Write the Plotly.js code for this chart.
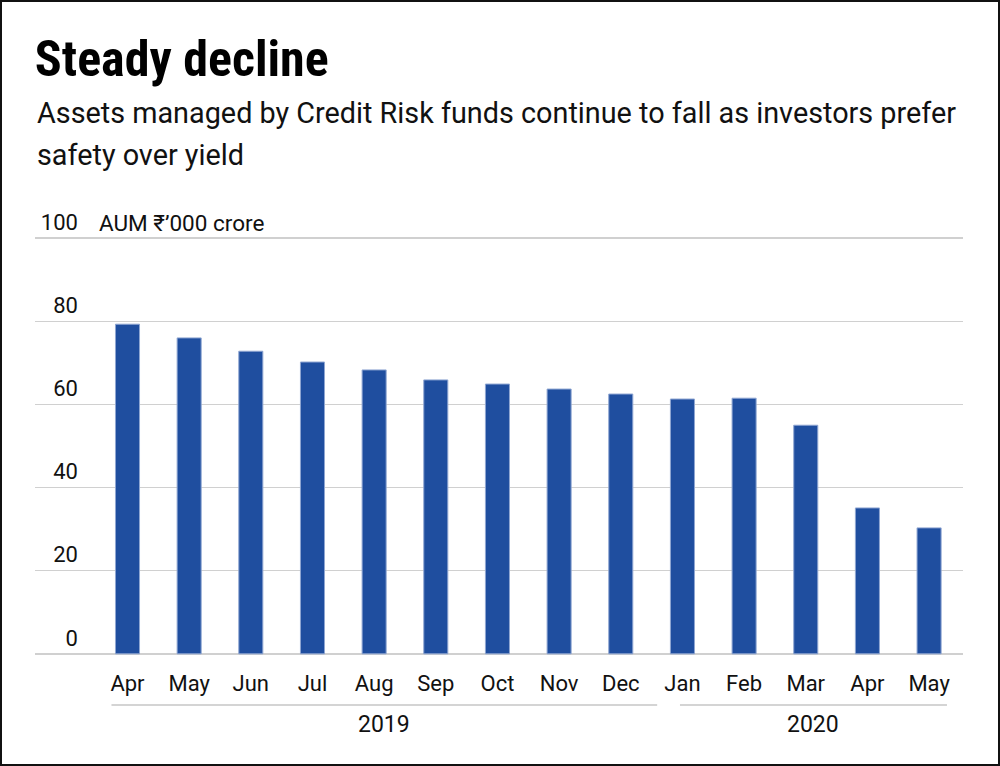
<!DOCTYPE html>
<html>
<head>
<meta charset="utf-8">
<script src="https://cdn.plot.ly/plotly-3.0.1.min.js"></script>
<style>
  html, body { margin: 0; padding: 0; background: #fff; }
  #chart { width: 1000px; height: 766px; box-sizing: border-box; border: 2px solid #111; }
</style>
</head>
<body>
<div id="chart"></div>
<script>
const months = ["Apr", "May", "Jun", "Jul", "Aug", "Sep", "Oct", "Nov", "Dec", "Jan", "Feb", "Mar", "Apr", "May"];
const aum = [79.3, 76.0, 72.8, 70.2, 68.3, 65.9, 64.9, 63.7, 62.5, 61.3, 61.5, 55.0, 35.1, 30.3];
const years = ["2019", "2020"];
const yearFirst = [0, 9];   // index of first month of each year
const yearLast = [8, 13];   // index of last month of each year
const yTicks = [0, 20, 40, 60, 80, 100];
const subtitleLines = [
  "Assets managed by Credit Risk funds continue to fall as investors prefer",
  "safety over yield"
];

const TITLE_FONT = "'Roboto Condensed', 'DejaVu Sans Condensed', sans-serif";
const FONT = "Roboto, 'Liberation Sans', sans-serif";
const idx = months.map((m, i) => i);

const trace = {
  type: 'bar',
  x: idx,
  y: aum,
  width: 0.39,
  marker: { color: '#1F4E9F', line: { color: '#8FA6D2', width: 1 } },
  hoverinfo: 'skip'
};

// bracket under each year's months (offsets in category units)
const bracketPad = [[-0.26, 0.59], [-0.04, 0.29]];
const shapes = years.map((y, k) => ({
  type: 'line', xref: 'x', yref: 'paper',
  x0: yearFirst[k] + bracketPad[k][0], x1: yearLast[k] + bracketPad[k][1],
  y0: -0.111, y1: -0.111,
  line: { color: '#d4d4d4', width: 2 }
}));

const annotations = subtitleLines.map((t, i) => ({
  text: t,
  xref: 'paper', yref: 'paper', x: 0, y: [1.2854, 1.1863][i], xanchor: 'left', yanchor: 'middle', align: 'left',
  showarrow: false, font: { family: FONT, size: 28.8, color: '#111' }
})).concat([
  {
    text: 'AUM ₹’000 crore',
    xref: 'paper', yref: 'paper', x: 0.0668, y: 1.026, xanchor: 'left', yanchor: 'middle',
    showarrow: false, font: { family: FONT, size: 22.5, color: '#111' }
  }
]).concat(years.map((y, k) => ({
  text: y, xref: 'x', yref: 'paper',
  x: (yearFirst[k] + bracketPad[k][0] + yearLast[k] + bracketPad[k][1]) / 2, y: -0.156,
  xanchor: 'center', yanchor: 'middle', showarrow: false,
  font: { family: FONT, size: 23, color: '#111' }
})));

const layout = {
  width: 996, height: 762,
  margin: { l: 33, r: 35, t: 232, b: 106 },
  paper_bgcolor: '#fff', plot_bgcolor: '#fff',
  showlegend: false,
  title: {
    text: '<b>Steady decline</b>',
    xref: 'container', yref: 'container', x: 0.033, y: 1 - 56/762,
    xanchor: 'left', yanchor: 'middle',
    font: { family: TITLE_FONT, size: 50, color: '#000' }
  },
  xaxis: {
    range: [-1.5, 13.55],
    tickvals: idx, ticktext: months,
    showgrid: false, zeroline: false, showline: false, ticks: '',
    ticklabelstandoff: 10,
    tickfont: { family: FONT, size: 22, color: '#111' },
    fixedrange: true
  },
  yaxis: {
    range: [-1, 101],
    tickvals: yTicks,
    anchor: 'free', position: 0.0463, side: 'left',
    showgrid: true, gridcolor: '#d0d0d0', gridwidth: 1.5,
    zeroline: false, showline: false, ticks: '',
    ticklabelshift: -16,
    tickfont: { family: FONT, size: 22, color: '#111' },
    fixedrange: true
  },
  shapes: shapes,
  annotations: annotations
};

Plotly.newPlot('chart', [trace], layout, { displayModeBar: false, staticPlot: true });
</script>
</body>
</html>
